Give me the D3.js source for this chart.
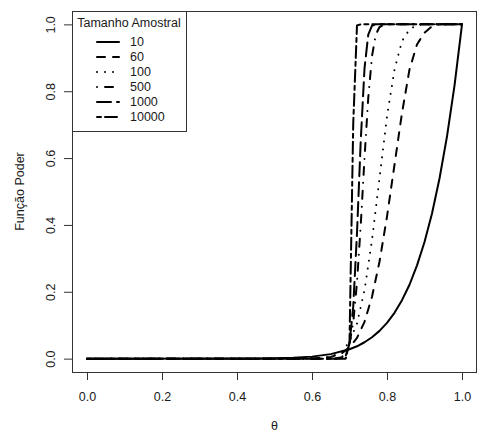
<!DOCTYPE html>
<html><head><meta charset="utf-8">
<script src="https://cdn.jsdelivr.net/npm/d3@7"></script>
<style>body{margin:0;background:#fff}svg{display:block}text{font-family:"Liberation Sans",Arial,sans-serif;fill:#1a1a1a}</style>
</head><body>
<script>
// Sample sizes (legend labels)
const sampleSizes = ["10", "60", "100", "500", "1000", "10000"];
// Power curves: theta values and power values per series
const theta10 = [0,0.45,0.5,0.55,0.6,0.65,0.7,0.72,0.74,0.76,0.78,0.8,0.82,0.84,0.86,0.88,0.9,0.92,0.94,0.96,0.98,1.0];
const power10 = [0,0.0003,0.001,0.0025,0.006,0.0135,0.028,0.037,0.049,0.064,0.083,0.107,0.137,0.175,0.221,0.279,0.349,0.434,0.539,0.665,0.817,1.0];
const theta60 = [0,0.55,0.6,0.65,0.68,0.7,0.72,0.74,0.76,0.78,0.8,0.82,0.84,0.86,0.88,0.9,0.92,0.94,1.0];
const power60 = [0,0,0.0005,0.005,0.016,0.034,0.062,0.11,0.185,0.29,0.425,0.58,0.735,0.865,0.94,0.975,0.994,1,1];
const theta100 = [0,0.6,0.65,0.68,0.7,0.72,0.74,0.76,0.78,0.8,0.82,0.84,0.86,0.88,0.9,1.0];
const power100 = [0,0.0002,0.0044,0.021,0.051,0.105,0.205,0.355,0.54,0.725,0.865,0.95,0.985,0.998,1,1];
const theta500 = [0,0.64,0.66,0.68,0.7,0.71,0.72,0.73,0.74,0.75,0.76,0.77,0.78,0.79,0.8,1.0];
const power500 = [0,0,0.0002,0.004,0.044,0.109,0.228,0.40,0.60,0.78,0.905,0.969,0.992,0.998,1,1];
const theta1000 = [0,0.66,0.68,0.69,0.7,0.71,0.72,0.73,0.74,0.75,0.76,0.77,1.0];
const power1000 = [0,0,0.001,0.009,0.045,0.156,0.376,0.652,0.868,0.969,0.996,1,1];
const theta10000 = [0,0.68,0.69,0.7,0.71,0.72,0.73,1.0];
const power10000 = [0,0,0,0.05,0.705,0.997,1,1];
// Tick labels
const xTicks = ["0.0","0.2","0.4","0.6","0.8","1.0"];
const yTicks = ["0.0","0.2","0.4","0.6","0.8","1.0"];

const thetas = [theta10, theta60, theta100, theta500, theta1000, theta10000];
const powers = [power10, power60, power100, power500, power1000, power10000];
const dashes = [null, "8 8", "0.01 8", "0.01 8 8 8", "14 6", "4 4 12 4"];

const W = 482, H = 436;
const L = 72, R = 477, T = 11, B = 372;
const svg = d3.select("body").append("svg").attr("width", W).attr("height", H);

const x = d3.scaleLinear().domain([-0.04, 1.04]).range([L, R]);
const y = d3.scaleLinear().domain([-0.04, 1.04]).range([B, T]);
const fs = 12.5;

// axes
const xAxis = d3.axisBottom(x).tickValues(xTicks.map(Number)).tickFormat((d,i)=>xTicks[i]).tickSize(8).tickSizeOuter(0);
const gx = svg.append("g").attr("transform", `translate(0,${B})`).call(xAxis);
gx.select(".domain").remove();
gx.selectAll("line").attr("stroke", "#333");
gx.selectAll("text").attr("font-size", fs).attr("dy", "0").attr("y", 29).attr("fill","#1a1a1a");

const yAxis = d3.axisLeft(y).tickValues(yTicks.map(Number)).tickFormat((d,i)=>yTicks[i]).tickSize(8).tickSizeOuter(0);
const gy = svg.append("g").attr("transform", `translate(${L},0)`).call(yAxis);
gy.select(".domain").remove();
gy.selectAll("line").attr("stroke", "#333");
gy.selectAll(".tick text").attr("font-size", fs).attr("text-anchor", "middle")
  .attr("transform", "rotate(-90)").attr("x", 0).attr("y", -21).attr("dy","0.33em").attr("fill","#1a1a1a");

// box
svg.append("rect").attr("x", L + 0.5).attr("y", T + 0.5).attr("width", R - L - 1).attr("height", B - T)
  .attr("fill", "none").attr("stroke", "#333").attr("stroke-width", 1);

// curves
const line = d3.line().x(d => x(d[0])).y(d => y(d[1]));
const g = svg.append("g");
for (let s = 0; s < sampleSizes.length; s++) {
  const pts = thetas[s].map((t, i) => [t, powers[s][i]]);
  const p = g.append("path").datum(pts).attr("d", line)
    .attr("fill", "none").attr("stroke", "#000").attr("stroke-width", 2)
    .attr("stroke-linecap", "round").attr("stroke-linejoin", "round");
  if (dashes[s]) p.attr("stroke-dasharray", dashes[s]);
}

// axis titles
svg.append("text").attr("x", (L + R) / 2).attr("y", 430).attr("text-anchor", "middle").attr("font-size", fs).text("θ");
svg.append("text").attr("transform", `translate(24,${(T + B) / 2}) rotate(-90)`).attr("text-anchor", "middle")
  .attr("font-size", fs).text("Função Poder");

// legend
const lg = svg.append("g");
lg.append("rect").attr("x", L + 0.5).attr("y", T + 0.5).attr("width", 114).attr("height", 120)
  .attr("fill", "#fff").attr("stroke", "#333").attr("stroke-width", 1);
lg.append("text").attr("x", L + 57).attr("y", 23).attr("dy", "0.35em").attr("text-anchor", "middle")
  .attr("font-size", fs).text("Tamanho Amostral");
sampleSizes.forEach((n, i) => {
  const yy = 42 + i * 15;
  const l = lg.append("line").attr("x1", 97).attr("x2", 119).attr("y1", yy).attr("y2", yy)
    .attr("stroke", "#000").attr("stroke-width", 2).attr("stroke-linecap", "round");
  if (dashes[i]) l.attr("stroke-dasharray", dashes[i]);
  lg.append("text").attr("x", 130).attr("y", yy).attr("dy", "0.35em").attr("font-size", fs).text(n);
});
</script>
</body></html>
